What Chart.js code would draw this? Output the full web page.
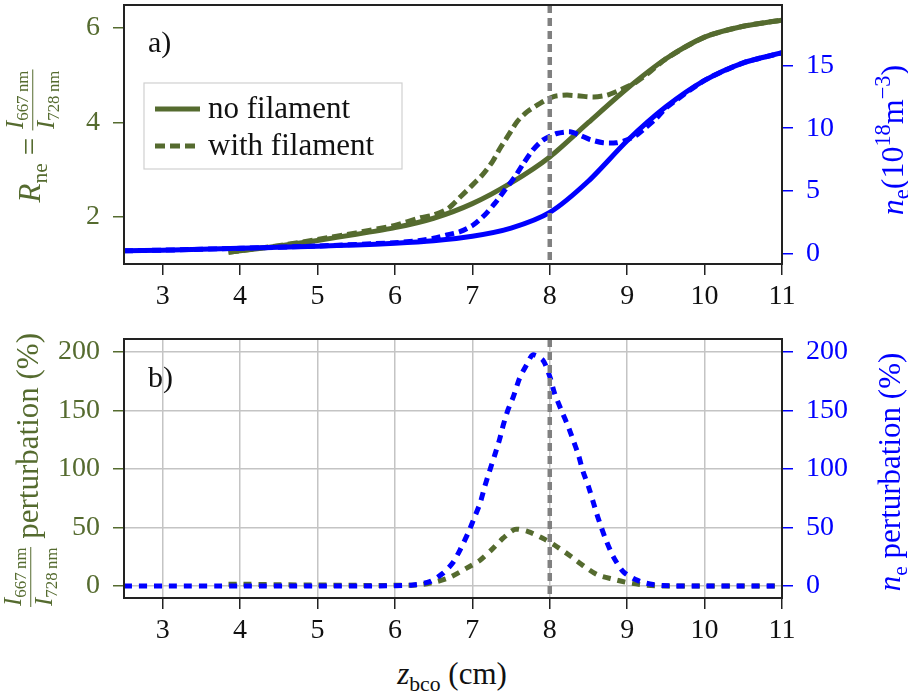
<!DOCTYPE html>
<html>
<head>
<meta charset="utf-8">
<script src="https://cdn.jsdelivr.net/npm/chart.js@4.4.1/dist/chart.umd.min.js"></script>
<style>
    body { margin: 0; background: #fff; }
    #page { position: relative; width: 908px; height: 697px; overflow: hidden; font-family: "Liberation Serif", "Times New Roman", Tinos, "Nimbus Roman", FreeSerif, "Noto Serif", "DejaVu Serif", serif; }
    .box { position: absolute; left: 0; width: 908px; }
    .title { position: absolute; white-space: nowrap; font-size: 31px; line-height: 1; transform: translate(-50%, -50%) rotate(-90deg); }
    .title sub { font-size: 0.7em; vertical-align: -0.3em; }
    .title sup { font-size: 0.7em; vertical-align: 0.55em; }
    .frac { display: inline-block; vertical-align: middle; text-align: center; font-size: 0.8em; line-height: 1.08; }
    .frac > span { display: block; padding: 0 1px; }
    .frac .num { border-bottom: 1.5px solid currentColor; }
    .frac sub { font-size: 0.68em; }
</style>
</head>
<body>
<div id="page">
    <div class="box" style="top:0; height:310px;"><canvas id="profileChart"></canvas></div>
    <div class="box" style="top:330px; height:318px;"><canvas id="perturbChart"></canvas></div>

    <div class="title" style="left:33px; top:136px; color:#556b2f;">
        <i>R</i><sub>ne</sub> = <span class="frac"><span class="num"><i>I</i><sub>667&#8201;nm</sub></span><span><i>I</i><sub>728&#8201;nm</sub></span></span>
    </div>
    <div class="title" style="left:893px; top:140px; font-size:32px; color:#0000ff;">
        <i>n</i><sub>e</sub>(10<sup>18</sup>m<sup>&minus;3</sup>)
    </div>
    <div class="title" style="left:31px; top:470px; color:#556b2f;">
        <span class="frac"><span class="num"><i>I</i><sub>667&#8201;nm</sub></span><span><i>I</i><sub>728&#8201;nm</sub></span></span> perturbation (%)
    </div>
    <div class="title" style="left:893px; top:472px; color:#0000ff;">
        <i>n</i><sub>e</sub> perturbation (%)
    </div>
    <div class="title" style="left:452px; top:677px; transform: translate(-50%, -50%); color:#111;">
        <i>z</i><sub>bco</sub> (cm)
    </div>
</div>

<script>
// Line ratio and electron density along the beam axis
const zRatioNoFil = [3.85, 4, 4.5, 5, 5.5, 6, 6.5, 7, 7.5, 8, 8.5, 9, 9.5, 10, 10.5, 11];
const ratioNoFil = [1.25, 1.28, 1.38, 1.5, 1.63, 1.77, 1.97, 2.28, 2.72, 3.27, 4.0, 4.72, 5.35, 5.81, 6.04, 6.17];

const zRatioFil = [3.85, 4, 4.5, 5, 5.5, 6, 6.33, 6.5, 6.69, 6.85, 6.98, 7.13, 7.26, 7.36, 7.47, 7.58, 7.71, 7.88, 8.05, 8.22, 8.39, 8.57, 8.74, 8.91, 9.09, 9.3, 9.5, 10, 10.5, 11];
const ratioFil = [1.25, 1.28, 1.39, 1.52, 1.66, 1.82, 1.98, 2.04, 2.18, 2.43, 2.64, 2.89, 3.17, 3.46, 3.74, 4.02, 4.23, 4.41, 4.55, 4.58, 4.56, 4.54, 4.58, 4.69, 4.83, 5.08, 5.35, 5.81, 6.04, 6.17];

const zNeNoFil = [2.5, 3, 3.5, 4, 4.5, 5, 5.5, 6, 6.5, 7, 7.5, 8, 8.5, 9, 9.5, 10, 10.5, 11];
const neNoFil = [0.25, 0.3, 0.37, 0.45, 0.53, 0.62, 0.72, 0.85, 1.05, 1.4, 2.05, 3.3, 5.8, 9.0, 11.7, 13.8, 15.2, 16.0];

const zNeFil = [2.5, 3, 4, 5, 6, 6.3, 6.5, 6.67, 6.84, 7.01, 7.16, 7.29, 7.42, 7.55, 7.66, 7.78, 7.91, 8.09, 8.26, 8.39, 8.52, 8.69, 8.86, 8.99, 9.12, 9.25, 9.38, 9.5, 10, 10.5, 11];
const neFil = [0.25, 0.3, 0.45, 0.63, 0.9, 1.05, 1.25, 1.51, 1.77, 2.3, 3.1, 4.02, 5.08, 6.14, 7.2, 8.25, 9.05, 9.58, 9.71, 9.44, 9.1, 8.84, 8.84, 9.05, 9.44, 10.1, 10.8, 11.6, 13.8, 15.2, 16.0];

// Perturbation caused by the filament (%)
const zPertRatio = [3.85, 4, 4.5, 5, 5.5, 6, 6.32, 6.54, 6.71, 6.92, 7.1, 7.25, 7.4, 7.55, 7.72, 7.91, 8.06, 8.28, 8.45, 8.62, 8.82, 9.01, 9.21, 9.42, 10, 10.5, 11];
const pertRatio = [1.5, 1.5, 1.0, 0.8, 0.5, 0.5, 0.9, 3.7, 7.4, 15, 22, 31, 41, 48.4, 46.4, 40.7, 35, 25, 16.5, 9.4, 5.7, 2.8, 0.9, 0, 0, 0, 0];

const zPertNe = [2.5, 3, 4, 5, 5.8, 6.23, 6.45, 6.62, 6.75, 6.85, 6.95, 7.03, 7.1, 7.16, 7.22, 7.29, 7.35, 7.4, 7.46, 7.53, 7.61, 7.7, 7.78, 7.91, 8.0, 8.06, 8.15, 8.24, 8.3, 8.37, 8.43, 8.5, 8.56, 8.62, 8.71, 8.82, 8.95, 9.1, 9.25, 9.46, 10, 10.5, 11];
const pertNe = [0, 0, 0, 0, 0, 0.9, 3.7, 10.8, 20, 32, 46, 59, 70.7, 84.9, 97.7, 112, 124.8, 137.6, 150.4, 161.8, 177.5, 188.9, 197.4, 193, 179, 165, 150, 136, 125, 112, 97.7, 85, 72, 59, 42, 25, 12.2, 5.7, 2.3, 0.3, 0, 0, 0];

// Axis ticks and the marked position
const zTicks = [3, 4, 5, 6, 7, 8, 9, 10, 11];
const ratioTicks = [2, 4, 6];
const neTicks = [0, 5, 10, 15];
const pertTicks = [0, 50, 100, 150, 200];
const markerZ = 8;

const GREEN = '#556b2f';
const BLUE = '#0000ff';
const SERIF = '"Liberation Serif", "Times New Roman", Tinos, "Nimbus Roman", FreeSerif, "Noto Serif", "DejaVu Serif", serif';

Chart.defaults.font.family = SERIF;
Chart.defaults.font.size = 28;
Chart.defaults.animation = false;

function points(xs, ys) {
    return xs.map((x, i) => ({ x: x, y: ys[i] }));
}

function fixedTicks(values) {
    return function(scale) {
        scale.ticks = values.map(v => ({ value: v }));
    };
}

// no extra room for half tick labels, the plot area is set by the axis sizes
function noPadding(s) {
    s.paddingTop = 0;
    s.paddingBottom = 0;
    s.paddingLeft = 0;
    s.paddingRight = 0;
}

function line(label, xs, ys, color, axis, dash, order) {
    return {
        label: label,
        data: points(xs, ys),
        yAxisID: axis,
        borderColor: color,
        borderWidth: 5,
        borderDash: dash,
        borderCapStyle: 'butt',
        pointRadius: 0,
        showLine: true,
        fill: false,
        tension: 0.25,
        order: order
    };
}

function xAxis(height, grid) {
    return {
        type: 'linear',
        min: 2.5,
        max: 11,
        afterBuildTicks: fixedTicks(zTicks),
        afterFit: s => { s.height = height; noPadding(s); },
        grid: { drawOnChartArea: grid, color: '#c4c4c4', lineWidth: 1.5, tickLength: 11, tickColor: '#222', tickWidth: 1.5 },
        border: { color: '#222', width: 2 },
        ticks: { color: '#111', padding: 5, maxRotation: 0 }
    };
}

function yAxis(position, min, max, tickValues, color, grid) {
    return {
        type: 'linear',
        position: position,
        min: min,
        max: max,
        afterBuildTicks: fixedTicks(tickValues),
        afterFit: s => { s.width = position === 'left' ? 124 : 126; noPadding(s); },
        grid: { drawOnChartArea: grid, color: '#c4c4c4', lineWidth: 1.5, tickLength: 11, tickColor: color, tickWidth: 1.5 },
        border: { color: '#222', width: 2 },
        ticks: { color: color, padding: 13 }
    };
}

// Frame, dashed marker line, panel letter and the in-plot legend
const panelPlugin = {
    id: 'panel',
    afterDatasetsDraw(chart, args, opts) {
        const ctx = chart.ctx;
        const area = chart.chartArea;
        const xm = chart.scales.x.getPixelForValue(opts.marker);
        ctx.save();
        ctx.strokeStyle = '#808080';
        ctx.lineWidth = 4.5;
        ctx.setLineDash([8, 5]);
        ctx.beginPath();
        ctx.moveTo(xm, area.top);
        ctx.lineTo(xm, area.bottom);
        ctx.stroke();
        ctx.setLineDash([]);
        ctx.strokeStyle = '#222';
        ctx.lineWidth = 2;
        ctx.strokeRect(area.left, area.top, area.right - area.left, area.bottom - area.top);

        ctx.fillStyle = '#111';
        ctx.font = '30px ' + SERIF;
        ctx.textBaseline = 'alphabetic';
        ctx.fillText(opts.label, area.left + 24, area.top + opts.labelDrop);

        if (opts.legend) {
            const items = chart.data.datasets.filter(d => opts.legend.includes(d.label));
            const bx = area.left + 20, by = area.top + 78, bw = 258, bh = 86;
            ctx.fillStyle = 'rgba(255,255,255,0.85)';
            ctx.fillRect(bx, by, bw, bh);
            ctx.strokeStyle = '#d0d0d0';
            ctx.lineWidth = 1.2;
            ctx.strokeRect(bx, by, bw, bh);
            ctx.font = '31px ' + SERIF;
            items.forEach((d, i) => {
                const y = by + 26 + i * 37;
                ctx.strokeStyle = d.borderColor;
                ctx.lineWidth = 5;
                ctx.setLineDash(d.borderDash || []);
                ctx.beginPath();
                ctx.moveTo(bx + 11, y);
                ctx.lineTo(bx + 56, y);
                ctx.stroke();
                ctx.setLineDash([]);
                ctx.fillStyle = '#111';
                ctx.textBaseline = 'middle';
                ctx.fillText(d.label, bx + 64, y + 1);
            });
        }
        ctx.restore();
    }
};

new Chart(document.getElementById('profileChart'), {
    type: 'scatter',
    data: {
        datasets: [
            line('no filament', zRatioNoFil, ratioNoFil, GREEN, 'yR', [], 4),
            line('with filament', zRatioFil, ratioFil, GREEN, 'yR', [10, 5], 3),
            line('ne no filament', zNeNoFil, neNoFil, BLUE, 'yN', [], 2),
            line('ne with filament', zNeFil, neFil, BLUE, 'yN', [9, 5], 1)
        ]
    },
    options: {
        responsive: true,
        maintainAspectRatio: false,
        layout: { padding: { top: 5, left: 0, right: 0, bottom: 0 } },
        plugins: {
            legend: { display: false },
            tooltip: { enabled: false },
            panel: { marker: markerZ, label: 'a)', labelDrop: 47, legend: ['no filament', 'with filament'] }
        },
        scales: {
            x: xAxis(46, false),
            yR: yAxis('left', 1.0, 6.49, ratioTicks, GREEN, false),
            yN: yAxis('right', -0.8, 19.8, neTicks, BLUE, false)
        }
    },
    plugins: [panelPlugin]
});

new Chart(document.getElementById('perturbChart'), {
    type: 'scatter',
    data: {
        datasets: [
            line('ratio perturbation', zPertRatio, pertRatio, GREEN, 'yP', [8, 7], 2),
            line('ne perturbation', zPertNe, pertNe, BLUE, 'yQ', [8, 7], 1)
        ]
    },
    options: {
        responsive: true,
        maintainAspectRatio: false,
        layout: { padding: { top: 9, left: 0, right: 0, bottom: 0 } },
        plugins: {
            legend: { display: false },
            tooltip: { enabled: false },
            panel: { marker: markerZ, label: 'b)', labelDrop: 48 }
        },
        scales: {
            x: xAxis(50, true),
            yP: yAxis('left', -10.3, 211, pertTicks, GREEN, true),
            yQ: yAxis('right', -10.3, 211, pertTicks, BLUE, false)
        }
    },
    plugins: [panelPlugin]
});
</script>
</body>
</html>
